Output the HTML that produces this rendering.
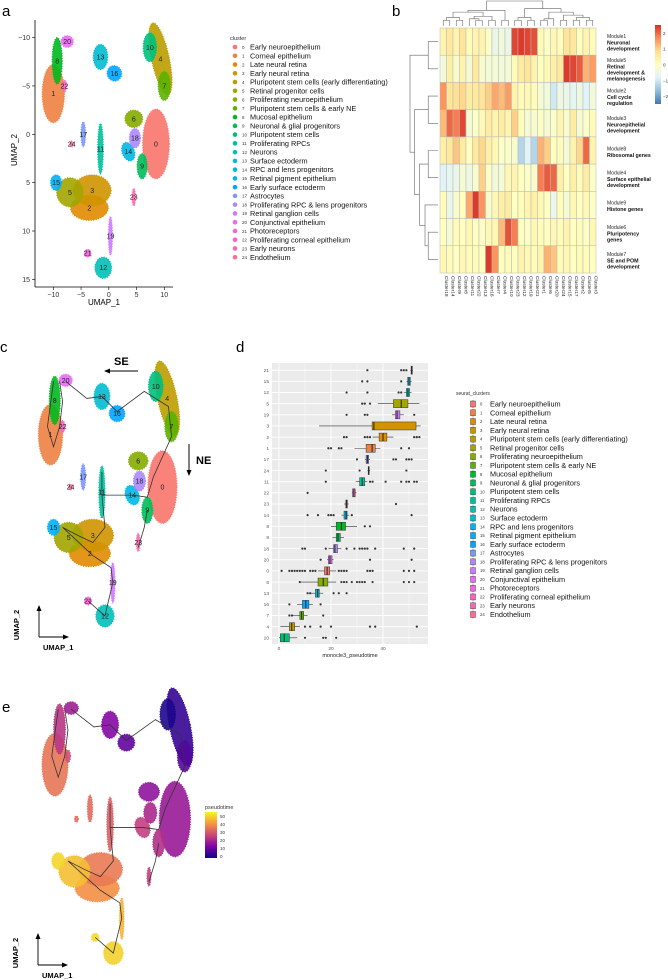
<!DOCTYPE html>
<html><head><meta charset="utf-8">
<style>
html,body{margin:0;padding:0;background:#fff;}
svg{display:block;font-family:"Liberation Sans",sans-serif;}
</style></head>
<body>
<svg id="fig" width="668" height="980" viewBox="0 0 668 980">
<text x="2" y="16" font-size="15">a</text>
<text x="392" y="16" font-size="15">b</text>
<text x="0" y="352" font-size="15">c</text>
<text x="236" y="352" font-size="15">d</text>
<text x="2" y="712" font-size="15">e</text>
</svg>
<script>
// ---------- shared data ----------
const clusterNames = ["Early neuroepithelium","Corneal epithelium","Late neural retina","Early neural retina","Pluripotent stem cells (early differentiating)","Retinal progenitor cells","Proliferating neuroepithelium","Pluripotent stem cells & early NE","Mucosal epithelium","Neuronal & glial progenitors","Pluripotent stem cells","Proliferating RPCs","Neurons","Surface ectoderm","RPC and lens progenitors","Retinal pigment epithelium","Early surface ectoderm","Astrocytes","Proliferating RPC & lens progenitors","Retinal ganglion cells","Conjunctival epithelium","Photoreceptors","Proliferating corneal epithelium","Early neurons","Endothelium"];
// UMAP cluster centres / spreads (UMAP units)
const cu1 = [8.5,-10,-3.5,-3,9.3,-7,4.5,10,-9.3,6,7.4,-1.5,-1,-1.5,3.5,-9.5,1,-4.6,4.7,0.3,-7.5,-3.8,-8,4.5,-6.7];
const cu2 = [1,-4.2,7.6,5.8,-7.8,6,-1.6,-5,-7.6,3.3,-9,1.5,13.8,-8,1.8,5,-6.3,0,0.4,10.5,-9.6,12.3,-5,6.5,1];
const crx = [2.4,2,3.4,3.4,1.6,2.4,1.6,1.1,0.9,0.9,1.2,0.5,1.5,1.3,1.1,1,1.3,0.4,1,0.35,1.1,0.6,0.4,0.3,0.3];
const cry = [3.6,3,1.3,1.6,3.8,1.5,0.9,1.5,2.4,1.3,1.5,2.6,1.1,1.3,1,0.8,0.8,1.3,1,2,0.6,0.4,0.6,0.9,0.3];
const crot = [0,0,0,0,-12,0,0,0,0,0,0,0,0,0,-20,0,-20,0,0,0,0,0,0,0,0];
// trajectory (UMAP units)
const trajA_u1=[-7.5,-4,-1.5,1,5.5,9.5,10,7,6,3.5,-1.5,-1.5];
const trajA_u2=[-9.5,-7.8,-8,-6.5,-8.5,-7,-4,0,2,1.8,1.8,-0.5];
const trajB_u1=[-1.5,-1,-3,-5.5,-8,-3,0,0.3,-0.5,-1,-3.8];
const trajB_u2=[1.8,5,6.5,5.8,5,7.8,9,10.5,12.5,13.8,12.3];
const trajC_u1=[6,5.5,4.5]; const trajC_u2=[3.3,5,7];
const trajD_u1=[-9.5,-10.5,-9.5,-8.5,-8,-8.5]; const trajD_u2=[-9.5,-5,-3,-5,-7.5,-9.5];

// boxplot data (panel d), top to bottom
const boxCats = [21,15,12,5,19,3,2,1,17,24,11,22,23,14,8,9,18,20,0,6,13,16,7,4,10];
const boxMed = [51,50,49.6,47,45.4,36.5,40,35.8,34,34.5,32,28.8,26,25.8,24,22.7,21.5,19.6,18.5,17,14.9,10.3,8.7,4.9,2];
const boxQ1 = [50.8,49.5,49,44,44.8,35.8,38.5,33.5,33.5,34.3,31,28.3,25.7,25,22,22,21,19,17.5,15,14,9,8,4,0.5];
const boxQ3 = [51.3,50.5,50.2,49.6,46.5,52.7,41.5,37,34.5,34.7,33,29.3,26.3,26.2,25.6,23.6,22.5,20.4,19.5,18.8,15.5,11.5,9.5,6,4];
const boxLo = [50.5,49,48,38,43.5,15.4,36,29,33,34,29.5,28,25,24,20,20.5,19,18.5,15,8,12,7,5,0.5,0];
const boxHi = [51.5,51,51,54,48,54.5,44,39,35,35,34,29.8,26.8,27,30,25,24,21,22,22,17,13,11,8,7];
const boxOut = [[34,47,48,49],[32,34,47],[26,34,46,47],[32,33,35],[26,33,34,52],[],[25,26,33,34,35,52,53,54],[19,20,23,24,47,50],[30,44,45,49,50,51],[18,31,49],[18,35,36,41,47,49,50,52,53],[11],[45],[11,15,19,20,21,28,51],[33,35],[],[9,10,18,26,29,31,32,33,34,37,48,52],[16,35,51],[1,4,5,6,7,8,9,10,12,13,14,23,24,25,26,34,35,36,48,50,52],[8,24,25,26,28,30,31,32,33,36,48,50,52],[11,12,21,23,26],[4,16],[4,5,17],[10,12,16,20,35,37,53],[10,17,18,22]];
const xTickVals = [0,20,40];
const pseudoTicks = [0,10,20,30,40,50];

// heatmap data
const hmCols = ["Cluster18","Cluster14","Cluster9","Cluster8","Cluster11","Cluster22","Cluster13","Cluster16","Cluster7","Cluster4","Cluster10","Cluster23","Cluster12","Cluster19","Cluster21","Cluster1","Cluster6","Cluster20","Cluster24","Cluster15","Cluster17","Cluster2","Cluster5","Cluster3"];
const hmRowsA = ["Module1","Module5","Module2","Module3","Module8","Module4","Module9","Module6","Module7"];
const hmRowsB = [["Neuronal","development"],["Retinal","development &","melanogenesis"],["Cell cycle","regulation"],["Neuroepithelial","development"],["Ribosomal genes"],["Surface epithelial","development"],["Histone genes"],["Pluripotency","genes"],["SE and POM","development"]];
const hmM1=[0.3,0.6,0.3,0.7,0.1,0.3,0.3,-0.1,-0.6,-0.4,-0.6,2.3,2.4,2.3,2.2,0.1,-0.1,0.2,0.1,0.7,0.6,0,0.3,0.1];
const hmM5=[-0.4,0.4,-0.2,0.3,-0.3,0.6,-0.2,-0.3,-0.3,-0.4,-0.3,0.1,0.5,0.7,0.3,0,0.2,0.4,0.6,2.4,2.3,2.1,1.3,1.5];
const hmM2=[1.6,0.7,0.8,0.9,0.5,0.6,0.7,1.0,1.4,1.2,1.5,0.3,0.1,0.2,0.1,-0.3,-0.4,-1.0,-0.5,-0.6,-0.7,-0.5,-0.8,-0.4];
const hmM3=[1.2,2.0,1.8,2.3,-0.3,-0.1,0.2,0.5,0.3,0.5,0.3,1.0,0.1,-0.3,-0.2,-0.1,-0.3,-0.1,0.3,-0.2,0.5,-0.3,-0.1,0.1];
const hmM8=[0.4,0.6,1.1,0.5,0.0,0.6,0.9,0.4,0.2,-0.1,-0.1,-0.2,-1.3,-0.8,-1.3,1.3,1.0,0.0,0.1,-0.3,0.3,0.9,2.0,0.3];
const hmM4=[-0.8,-0.7,-0.6,-0.3,-0.5,-0.2,1.0,-0.1,-0.4,-0.3,0.2,0.3,0.0,-0.1,-0.2,1.8,2.1,2.0,0.4,0.0,0.4,0.1,0.5,-0.1];
const hmM9=[0.1,-0.6,-0.2,0.0,1.4,2.4,1.6,-0.2,0.2,0.4,0.5,0.0,0.1,0.3,0.4,0.2,0.0,-0.6,0.1,-0.3,0.2,0.0,0.2,-0.1];
const hmM6=[0.0,-0.3,0.1,0.0,0.2,0.0,-0.1,0.2,0.2,1.2,2.2,1.8,0.0,-0.1,0.2,0.1,0.0,0.2,0.1,0.3,0.0,0.1,-0.1,0.2];
const hmM7=[0.2,0.1,0.0,0.2,0.1,0.1,0.0,2.4,1.6,0.0,0.1,0.0,0.3,0.2,0.1,0.3,1.3,1.1,0.1,0.2,0.0,0.1,0.1,0.0];
const hmLegendTicks=[2,1,0,-1,-2];

// ---------- helpers ----------
const NS="http://www.w3.org/2000/svg";
const svg=document.getElementById('fig');
function mk(tag,attrs,parent){const e=document.createElementNS(NS,tag);for(const k in attrs)e.setAttribute(k,attrs[k]);(parent||svg).appendChild(e);return e;}
function hue(i,n){ // ggplot hue_pal via HCL
  const h=(15+i*360/n)*Math.PI/180,L=65,C=100;
  const Y=Math.pow((L+16)/116,3);const un=0.1978398,vn=0.4683363;
  const u=C*Math.cos(h)/(13*L)+un,v=C*Math.sin(h)/(13*L)+vn;
  const X=Y*9*u/(4*v),Z=Y*(12-3*u-20*v)/(4*v);
  let r=3.2404542*X-1.5371385*Y-0.4985314*Z,g=-0.9692660*X+1.8760108*Y+0.0415560*Z,b=0.0556434*X-0.2040259*Y+1.0572252*Z;
  const f=c=>{c=c<=0.0031308?12.92*c:1.055*Math.pow(c,1/2.4)-0.055;return Math.round(Math.max(0,Math.min(1,c))*255);};
  return `rgb(${f(r)},${f(g)},${f(b)})`;
}
const cols=clusterNames.map((_,i)=>hue(i,25));
function lerpStops(stops,t){t=Math.max(0,Math.min(1,t));const n=stops.length-1;const k=Math.min(n-1,Math.floor(t*n));const f=t*n-k;
  const a=stops[k],b=stops[k+1];return `rgb(${Math.round(a[0]+(b[0]-a[0])*f)},${Math.round(a[1]+(b[1]-a[1])*f)},${Math.round(a[2]+(b[2]-a[2])*f)})`;}
const plasma=[[13,8,135],[126,3,168],[204,71,120],[248,149,64],[240,249,33]];
const rdylbu=[[69,117,180],[145,191,219],[224,243,248],[255,255,191],[254,224,144],[252,141,89],[215,48,39]];

// ---------- UMAP panels ----------
function umapPanel(name,T,colorFn,showLabels,showTraj){
  const g=mk('g',{});
  
  
  const X=u=>T.ox+T.sx*u, Y=u=>T.oy+T.sy*u;
  for(let i=0;i<cu1.length;i++){
    const e=mk('ellipse',{cx:X(cu1[i]),cy:Y(cu2[i]),rx:crx[i]*T.sx,ry:cry[i]*T.sy,fill:colorFn(i),'fill-opacity':0.9,stroke:colorFn(i),'stroke-width':1.2,'stroke-dasharray':'1 1.5',transform:`rotate(${crot[i]} ${X(cu1[i])} ${Y(cu2[i])})`},g);
    
    
  }
  if(showTraj){
    [[trajA_u1,trajA_u2],[trajB_u1,trajB_u2],[trajC_u1,trajC_u2],[trajD_u1,trajD_u2]].forEach((t,k)=>{
      const p=mk('polyline',{points:t[0].map((u,j)=>X(u)+','+Y(t[1][j])).join(' '),fill:'none',stroke:'#333','stroke-width':0.8},g);
      
      
    });
  }
  if(showLabels){
    for(let i=0;i<cu1.length;i++){
      const t=mk('text',{x:X(cu1[i]),y:Y(cu2[i])+2.5,'font-size':7,'text-anchor':'middle',fill:'#222'},g);t.textContent=i;
      
      
    }
  }
}
// panel a
const TA={ox:108.8,oy:134.3,sx:5.55,sy:9.67};
umapPanel('panel-a',TA,i=>cols[i],true,false);
mk('line',{x1:35,y1:20,x2:35,y2:287,stroke:'#000','stroke-width':0.8});
mk('line',{x1:35,y1:287,x2:173,y2:287,stroke:'#000','stroke-width':0.8});
[-10,-5,0,5,10,15].forEach(v=>{const y=TA.oy+TA.sy*v;mk('line',{x1:32,y1:y,x2:35,y2:y,stroke:'#000','stroke-width':0.6});
  const t=mk('text',{x:30,y:y+2.5,'font-size':7,'text-anchor':'end',fill:'#333'});t.textContent=v<0?'\u2212'+(-v):v;
  });
[-10,-5,0,5,10].forEach(v=>{const x=TA.ox+TA.sx*v;mk('line',{x1:x,y1:287,x2:x,y2:290,stroke:'#000','stroke-width':0.6});
  const t=mk('text',{x:x,y:297,'font-size':7,'text-anchor':'middle',fill:'#333'});t.textContent=v<0?'\u2212'+(-v):v;
  });
{const t=mk('text',{x:0,y:0,'font-size':8,'text-anchor':'middle',transform:'translate(17,150) rotate(-90)'});t.textContent='UMAP_2';}
{const t=mk('text',{x:104,y:305,'font-size':8,'text-anchor':'middle'});t.textContent='UMAP_1';}
// legend a
{const t=mk('text',{x:230,y:40,'font-size':5.5,fill:'#333'});t.textContent='cluster';}
clusterNames.forEach((n,i)=>{const y=47+i*8.76;
  const c=mk('circle',{cx:235,cy:y,r:2.3,fill:cols[i]});
  const t1=mk('text',{x:242,y:y+1.8,'font-size':4.5,fill:'#333'});t1.textContent=i;
  const t=mk('text',{x:250,y:y+2.6,'font-size':7.3,fill:'#111'});t.textContent=n;
  });

// panel c
const TC={ox:111,oy:477,sx:6.05,sy:10.07};
umapPanel('panel-c',TC,i=>cols[i],true,true);
{const t=mk('text',{x:114,y:365,'font-size':11,'font-weight':'bold'});t.textContent='SE';}
mk('line',{x1:138,y1:371,x2:108,y2:371,stroke:'#000','stroke-width':1});
mk('polygon',{points:'104,371 110,368.5 110,373.5',fill:'#000'});
{const t=mk('text',{x:196,y:464,'font-size':11,'font-weight':'bold'});t.textContent='NE';}
mk('line',{x1:189,y1:444,x2:189,y2:472,stroke:'#000','stroke-width':1});
mk('polygon',{points:'189,476 186.5,470 191.5,470',fill:'#000'});
function umapArrows(x0,y0,lab){
  mk('line',{x1:x0,y1:y0,x2:x0,y2:y0-28,stroke:'#000','stroke-width':0.9});
  mk('polygon',{points:`${x0},${y0-32} ${x0-2.5},${y0-26} ${x0+2.5},${y0-26}`,fill:'#000'});
  mk('line',{x1:x0,y1:y0,x2:x0+26,y2:y0,stroke:'#000','stroke-width':0.9});
  mk('polygon',{points:`${x0+30},${y0} ${x0+24},${y0-2.5} ${x0+24},${y0+2.5}`,fill:'#000'});
  const t=mk('text',{x:0,y:0,'font-size':7.5,'font-weight':'bold','text-anchor':'middle',transform:`translate(${x0-20},${y0-12}) rotate(-90)`});t.textContent='UMAP_2';
  
  const t2=mk('text',{x:x0+4,y:y0+13,'font-size':7.5,'font-weight':'bold'});t2.textContent='UMAP_1';
  
}
umapArrows(39,637,'panel-c');

// panel e
const TE={ox:119.8,oy:808.6,sx:6.48,sy:10.47};
const clusterPseudo=cu1.map((_,i)=>boxMed[boxCats.indexOf(i)]);
umapPanel('panel-e',TE,i=>lerpStops(plasma,clusterPseudo[i]/55),false,true);
umapArrows(38,965,'panel-e');
{const t=mk('text',{x:205,y:809,'font-size':5.5,fill:'#333'});t.textContent='pseudotime';}
{const defs=mk('defs',{});const lg=mk('linearGradient',{id:'pl',x1:0,y1:1,x2:0,y2:0},defs);
 plasma.forEach((c,k)=>mk('stop',{offset:k/4,'stop-color':`rgb(${c})`},lg));
 const r=mk('rect',{x:205,y:812,width:12,height:46,fill:'url(#pl)'});
 pseudoTicks.forEach(v=>{const y=856-v/55*44;const t=mk('text',{x:220,y:y+2,'font-size':4.5,fill:'#333'});t.textContent=v;
  });}

// ---------- panel b heatmap ----------
const hmRows=[hmM1,hmM5,hmM2,hmM3,hmM8,hmM4,hmM9,hmM6,hmM7];
const HX=440,HY=28,CW=156/24,RH=245/9;
hmRows.forEach((row,r)=>row.forEach((v,c)=>{
  const e=mk('rect',{x:HX+c*CW,y:HY+r*RH,width:CW,height:RH,fill:lerpStops(rdylbu,(v+2.5)/5),stroke:'#b8b8b8','stroke-width':0.5});
  
  
}));
hmCols.forEach((n,c)=>{const x=HX+c*CW+CW/2+1.5;const t=mk('text',{x:0,y:0,'font-size':4.8,fill:'#222',transform:`translate(${x},276) rotate(90)`});t.textContent=n;
  });
hmRowsA.forEach((n,r)=>{const y0=HY+r*RH;const lines=hmRowsB[r];const ty=y0+RH/2-(lines.length)*3.2;
  const t=mk('text',{x:607,y:ty+3,'font-size':5,fill:'#222'});t.textContent=n;
  
  lines.forEach((l,k)=>{const b=mk('text',{x:607,y:ty+9.5+k*6,'font-size':5.3,'font-weight':'bold',fill:'#111'});b.textContent=l;
   });});
{const defs=mk('defs',{});const lg=mk('linearGradient',{id:'rb',x1:0,y1:1,x2:0,y2:0},defs);
 rdylbu.forEach((c,k)=>mk('stop',{offset:k/6,'stop-color':`rgb(${c})`},lg));
 const r=mk('rect',{x:655,y:25,width:6,height:79,fill:'url(#rb)'});
 hmLegendTicks.forEach(v=>{const y=64.5-v*15.8;const t=mk('text',{x:663,y:y+2,'font-size':4.5,fill:'#333'});t.textContent=v<0?'\u2212'+(-v):v;
  });}
// dendrograms
function dendro(tree,pos,depthFn,horizontal,base,span){
  function draw(node,level){
    if(typeof node==='number') return {p:pos(node),h:base};
    const a=draw(node[0],level+1),b=draw(node[1],level+1);
    const h=base-span*depthFn(node);
    if(horizontal){mk('path',{d:`M${a.p},${a.h}V${h}H${b.p}V${b.h}`,fill:'none',stroke:'#666','stroke-width':0.6});}
    else{mk('path',{d:`M${a.h},${a.p}H${h}V${b.p}H${b.h}`,fill:'none',stroke:'#666','stroke-width':0.6});}
    return {p:(a.p+b.p)/2,h:h};
  }
  draw(tree,0);
}
function leaves(n){return typeof n==='number'?1:leaves(n[0])+leaves(n[1]);}
const colTree=[[[[[0,1],[2,3]],[[4,[5,6]],[7,8]]],[9,10]],[[[11,12],[13,14]],[[[15,16],17],[[18,19],[[20,21],[22,23]]]]]];
dendro(colTree,c=>HX+c*CW+CW/2,n=>Math.min(1,Math.pow(leaves(n)/24,0.6)),true,26,25);
const rowTree=[[0,1],[[2,3],[[4,5],[6,[7,8]]]]];
dendro(rowTree,r=>HY+r*RH+RH/2,n=>Math.min(1,Math.pow(leaves(n)/9,0.7)),false,438,28);

// ---------- panel d boxplot ----------
const PX0=272,PX1=428,PY0=363,PY1=644;
const xs=v=>279+v*2.6, ys=i=>370.2+i*11.15;
mk('rect',{x:PX0,y:PY0,width:PX1-PX0,height:PY1-PY0,fill:'#ebebeb'});
[10,30,50].forEach(v=>mk('line',{x1:xs(v),y1:PY0,x2:xs(v),y2:PY1,stroke:'#fff','stroke-width':0.4}));
xTickVals.forEach(v=>mk('line',{x1:xs(v),y1:PY0,x2:xs(v),y2:PY1,stroke:'#fff','stroke-width':0.9}));
boxCats.forEach((c,i)=>mk('line',{x1:PX0,y1:ys(i),x2:PX1,y2:ys(i),stroke:'#fff','stroke-width':0.9}));
boxCats.forEach((c,i)=>{
  const y=ys(i),col=cols[c];
  const g=mk('g',{});
  mk('line',{x1:xs(boxLo[i]),y1:y,x2:xs(boxHi[i]),y2:y,stroke:'#333','stroke-width':0.6},g);
  mk('rect',{x:xs(boxQ1[i]),y:y-4,width:Math.max(1,xs(boxQ3[i])-xs(boxQ1[i])),height:8,fill:col,stroke:'#333','stroke-width':0.5},g);
  mk('line',{x1:xs(boxMed[i]),y1:y-4,x2:xs(boxMed[i]),y2:y+4,stroke:'#222','stroke-width':1},g);
  boxOut[i].forEach(v=>mk('circle',{cx:xs(v),cy:y,r:1.1,fill:'#333'},g));
  const t=mk('text',{x:PX0-3,y:y+1.7,'font-size':4.8,'text-anchor':'end',fill:'#555'});t.textContent=c;
  
});
xTickVals.forEach(v=>{const t=mk('text',{x:xs(v),y:PY1+6,'font-size':4.8,'text-anchor':'middle',fill:'#555'});t.textContent=v;
  });
{const t=mk('text',{x:350,y:657,'font-size':5.5,'text-anchor':'middle',fill:'#222'});t.textContent='monocle3_pseudotime';}
{const t=mk('text',{x:456,y:395,'font-size':5,fill:'#333'});t.textContent='seurat_clusters';}
clusterNames.forEach((n,i)=>{const y=404+i*8.77;
  mk('line',{x1:473,y1:y-4,x2:473,y2:y+4,stroke:'#333','stroke-width':0.5});
  const r=mk('rect',{x:470.5,y:y-3,width:5,height:6,fill:cols[i],stroke:'#333','stroke-width':0.4});
  
  const t1=mk('text',{x:480,y:y+1.6,'font-size':4.2,fill:'#333'});t1.textContent=i;
  const t=mk('text',{x:490,y:y+2.5,'font-size':7.3,fill:'#111'});t.textContent=n;
  });
</script>
</body></html>
